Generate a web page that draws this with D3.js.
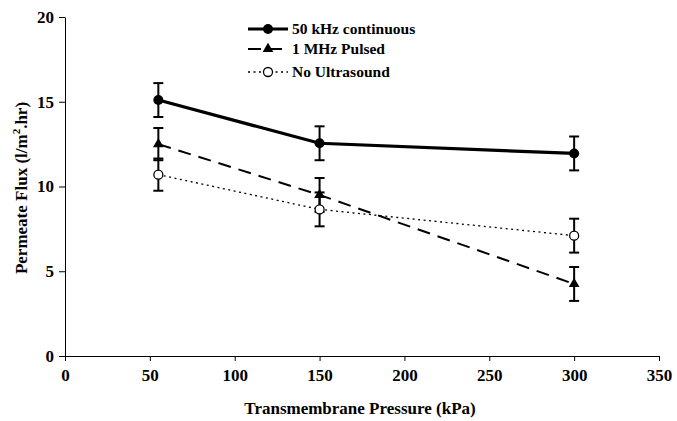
<!DOCTYPE html>
<html>
<head>
<meta charset="utf-8">
<script src="https://cdn.jsdelivr.net/npm/d3@7"></script>
<style>
  body { margin: 0; background: #fff; }
  text { font-family: "Liberation Serif", "Times New Roman", serif; font-weight: bold; fill: #000; }
</style>
</head>
<body>
<div id="chart"></div>
<script>
// data
const pressure = [55, 150, 300];
const flux50k = [15.1, 12.55, 11.95];
const err50k = [1.0, 1.0, 1.0];
const flux1M = [12.5, 9.5, 4.25];
const err1M = [0.95, 1.0, 1.0];
const fluxNone = [10.7, 8.65, 7.1];
const errNone = [0.95, 1.0, 1.0];
const xTicks = [0, 50, 100, 150, 200, 250, 300, 350];
const yTicks = [0, 5, 10, 15, 20];

const WIDTH = 677, HEIGHT = 421;
const MARGIN = { left: 65, right: 18, top: 17, bottom: 65 };

const series = [
    { name: "50 kHz continuous", y: flux50k, err: err50k, width: 3.2, dash: null, marker: "circle" },
    { name: "1 MHz Pulsed", y: flux1M, err: err1M, width: 2, dash: "13,8", marker: "triangle" },
    { name: "No Ultrasound", y: fluxNone, err: errNone, width: 1.3, dash: "2,3.5", marker: "open" }
];

const svg = d3.select("#chart").append("svg")
    .attr("width", WIDTH)
    .attr("height", HEIGHT);

const x = d3.scaleLinear().domain([0, 350]).range([MARGIN.left, WIDTH - MARGIN.right]);
const y = d3.scaleLinear().domain([0, 20]).range([HEIGHT - MARGIN.bottom, MARGIN.top]);

// axes
const xAxis = svg.append("g")
    .attr("transform", `translate(0, ${y(0)})`)
    .call(d3.axisBottom(x).tickValues(xTicks).tickSize(5).tickPadding(8).tickSizeOuter(0));
const yAxis = svg.append("g")
    .attr("transform", `translate(${x(0)}, 0)`)
    .call(d3.axisLeft(y).tickValues(yTicks).tickSize(6).tickPadding(5).tickSizeOuter(0));

[xAxis, yAxis].forEach(g => {
    g.select(".domain").attr("stroke", "#000").attr("stroke-width", 1);
    g.selectAll(".tick line").attr("stroke", "#000");
    g.selectAll(".tick text")
     .attr("font-family", "Liberation Serif, serif")
     .attr("font-weight", "bold")
     .attr("font-size", "17px")
     .attr("fill", "#000");
});

// axis titles
svg.append("text")
    .attr("x", 360)
    .attr("y", 414)
    .attr("text-anchor", "middle")
    .attr("font-size", "17px")
    .text("Transmembrane Pressure (kPa)");

const yLabel = svg.append("text")
    .attr("transform", "translate(27, 188) rotate(-90)")
    .attr("text-anchor", "middle")
    .attr("font-size", "17px");
yLabel.append("tspan").text("Permeate Flux (l/m");
yLabel.append("tspan").attr("font-size", "11px").attr("dy", -7).text("2");
yLabel.append("tspan").attr("dy", 7).text(".hr)");

const line = d3.line()
    .x((d, i) => x(pressure[i]))
    .y(d => y(d));

function drawMarker(g, type, cx, cy) {
    if (type === "circle") {
        g.append("circle").attr("cx", cx).attr("cy", cy).attr("r", 5).attr("fill", "#000");
    } else if (type === "triangle") {
        g.append("path")
         .attr("d", d3.symbol().type(d3.symbolTriangle).size(50)())
         .attr("transform", `translate(${cx}, ${cy})`)
         .attr("fill", "#000");
    } else {
        g.append("circle").attr("cx", cx).attr("cy", cy).attr("r", 4.5)
         .attr("fill", "#fff").attr("stroke", "#000").attr("stroke-width", 1.3);
    }
}

series.forEach(s => {
    const g = svg.append("g");

    g.append("path")
     .attr("d", line(s.y))
     .attr("fill", "none")
     .attr("stroke", "#000")
     .attr("stroke-width", s.width)
     .attr("stroke-dasharray", s.dash);

    // error bars
    s.y.forEach((v, i) => {
        const cx = x(pressure[i]);
        const top = y(v + s.err[i]), bot = y(v - s.err[i]);
        g.append("line").attr("x1", cx).attr("x2", cx).attr("y1", top).attr("y2", bot)
         .attr("stroke", "#000").attr("stroke-width", 2);
        [top, bot].forEach(yy => {
            g.append("line").attr("x1", cx - 5).attr("x2", cx + 5).attr("y1", yy).attr("y2", yy)
             .attr("stroke", "#000").attr("stroke-width", 2);
        });
    });

    s.y.forEach((v, i) => drawMarker(g, s.marker, x(pressure[i]), y(v)));
});

// legend
const legend = svg.append("g").attr("transform", "translate(248, 29)");
series.forEach((s, i) => {
    const row = legend.append("g").attr("transform", `translate(0, ${[0, 20, 43][i]})`);
    row.append("line")
       .attr("x1", 0).attr("x2", 40).attr("y1", 0).attr("y2", 0)
       .attr("stroke", "#000")
       .attr("stroke-width", s.width)
       .attr("stroke-dasharray", s.dash);
    drawMarker(row, s.marker, 20, 0);
    row.append("text")
       .attr("x", 44)
       .attr("y", 5)
       .attr("font-size", "15.5px")
       .text(s.name);
});
</script>
</body>
</html>
